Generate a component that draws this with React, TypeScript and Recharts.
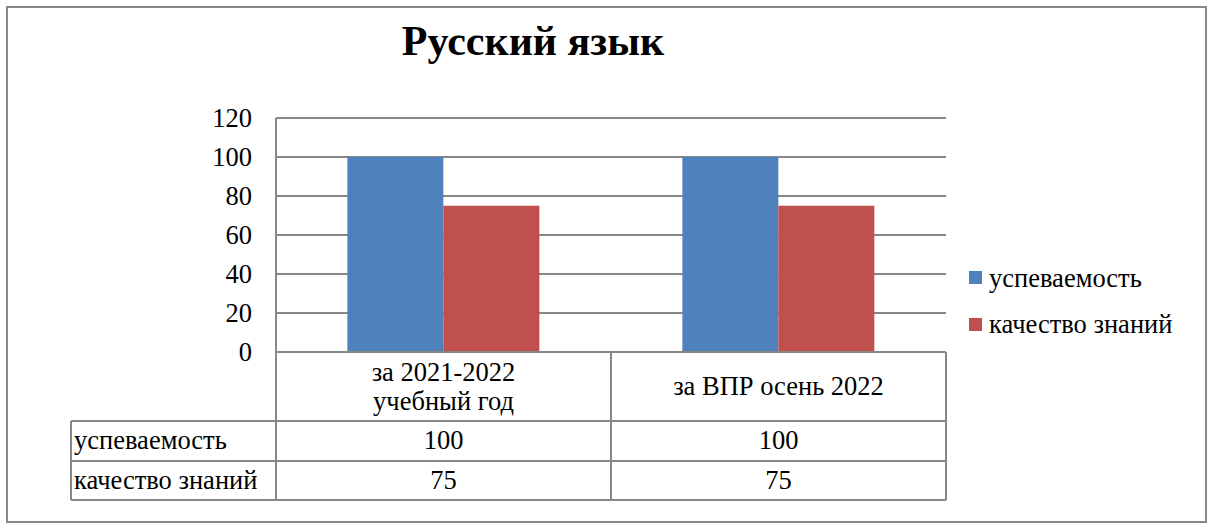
import React from 'react';
import { BarChart, Bar, XAxis, YAxis, CartesianGrid } from 'recharts';

const categoryLines: string[][] = [['за 2021-2022', 'учебный год'], ['за ВПР осень 2022']];
const categories = categoryLines.map((l) => l.join(' '));
const seriesNames = ['успеваемость', 'качество знаний'];
const uspevaemost = [100, 100];
const kachestvo = [75, 75];
const seriesValues = [uspevaemost, kachestvo];
const yTicks = [0, 20, 40, 60, 80, 100, 120];
const colors = ['#4F81BD', '#C0504D'];
const title = 'Русский язык';

const data = categories.map((c, i) => ({ name: c, s0: uspevaemost[i], s1: kachestvo[i] }));

const FONT = "'Liberation Serif', 'Times New Roman', serif";
const TS: React.CSSProperties = { fontFamily: FONT, fontSize: 26.5 };
const GRID = '#878787';
const W = 1208;
const H = 525;
const PLOT_L = 276;
const PLOT_R = 946;
const PLOT_T = 118;
const PLOT_B = 352;
const ROW1 = 421;
const ROW2 = 461;
const ROW3 = 500;
const TABLE_L = 71;
const MID = 611;

const YTick = (props: any) => {
  const { x, y, payload } = props;
  return (
    <text x={x} y={y} dy="0.35em" textAnchor="end" style={TS} fill="#000">
      {payload.value}
    </text>
  );
};

const XTick = (props: any) => {
  const { x, y, payload } = props;
  const idx = payload.index ?? categories.indexOf(payload.value);
  const lines = categoryLines[idx] || [String(payload.value)];
  const headerMid = y + (ROW1 - PLOT_B) / 2;
  const lh = 29;
  const start = headerMid - ((lines.length - 1) * lh) / 2 + 8.5;
  return (
    <g>
      {lines.map((l, i) => (
        <text key={i} x={x} y={start + i * lh} textAnchor="middle" style={TS} fill="#000">
          {l}
        </text>
      ))}
      {seriesValues.map((vals, s) => (
        <text key={'v' + s} x={x} y={y + 97 + s * 40} textAnchor="middle" style={TS} fill="#000">
          {vals[idx]}
        </text>
      ))}
    </g>
  );
};

export default function App() {
  return (
    <div style={{ position: 'absolute', left: 0, top: 0, width: W, height: H, background: '#fff' }}>
      <BarChart
        width={W}
        height={H}
        data={data}
        margin={{ top: PLOT_T, right: W - PLOT_R, bottom: 0, left: 0 }}
        barCategoryGap="21.3%"
        barGap={0}
      >
        <CartesianGrid vertical={false} stroke={GRID} strokeWidth={2} />
        <XAxis
          dataKey="name"
          height={H - PLOT_B}
          axisLine={{ stroke: GRID, strokeWidth: 2 }}
          tickLine={false}
          tickSize={0}
          tickMargin={0}
          interval={0}
          tick={<XTick />}
        />
        <YAxis
          width={PLOT_L}
          domain={[0, 120]}
          ticks={yTicks}
          interval={0}
          axisLine={{ stroke: GRID, strokeWidth: 2 }}
          tickLine={false}
          tickSize={0}
          tickMargin={24}
          tick={<YTick />}
        />
        <Bar dataKey="s0" name={seriesNames[0]} fill={colors[0]} isAnimationActive={false} />
        <Bar dataKey="s1" name={seriesNames[1]} fill={colors[1]} isAnimationActive={false} />
      </BarChart>
      <svg
        width={W}
        height={H}
        style={{ position: 'absolute', left: 0, top: 0, pointerEvents: 'none' }}
      >
        <rect x={7} y={7} width={1199} height={515} fill="none" stroke="#888" strokeWidth={2} />
        <text x={533} y={55} textAnchor="middle" style={{ fontFamily: FONT, fontSize: 42, fontWeight: 'bold' }} fill="#000">
          {title}
        </text>
        <g stroke={GRID} strokeWidth={2}>
          <line x1={TABLE_L} y1={ROW1} x2={PLOT_R} y2={ROW1} />
          <line x1={TABLE_L} y1={ROW2} x2={PLOT_R} y2={ROW2} />
          <line x1={TABLE_L} y1={ROW3} x2={PLOT_R} y2={ROW3} />
          <line x1={TABLE_L} y1={ROW1} x2={TABLE_L} y2={ROW3} />
          <line x1={PLOT_L} y1={PLOT_B} x2={PLOT_L} y2={ROW3} />
          <line x1={MID} y1={PLOT_B} x2={MID} y2={ROW3} />
          <line x1={PLOT_R} y1={PLOT_B} x2={PLOT_R} y2={ROW3} />
        </g>
        {seriesNames.map((n, i) => (
          <text key={n} x={74} y={449 + i * 40} style={TS} fill="#000">
            {n}
          </text>
        ))}
        {seriesNames.map((n, i) => (
          <g key={n}>
            <rect x={969} y={271 + i * 47} width={13} height={13} fill={colors[i]} />
            <text x={989} y={287 + i * 46} style={TS} fill="#000">
              {n}
            </text>
          </g>
        ))}
      </svg>
    </div>
  );
}
